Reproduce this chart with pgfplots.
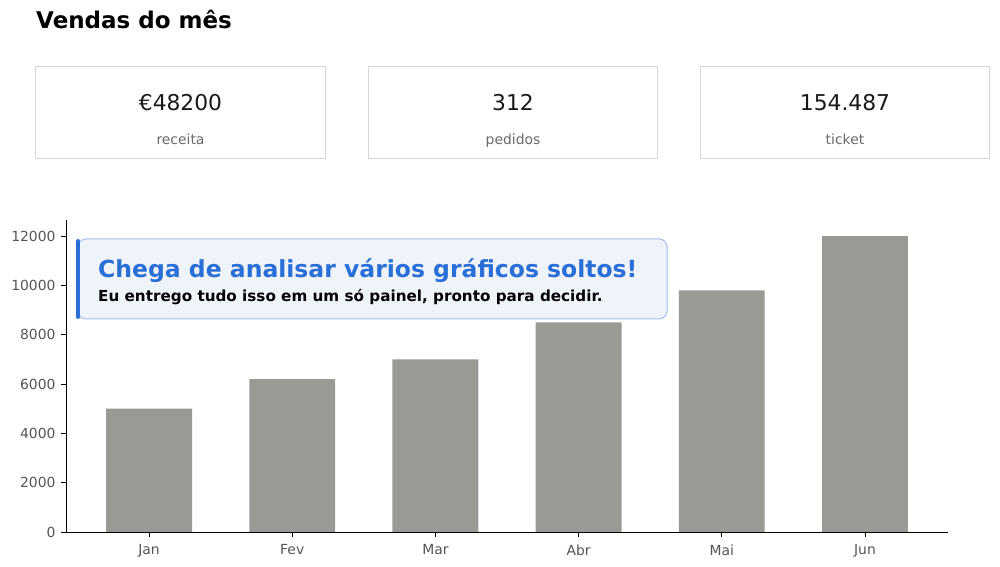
\documentclass[border=0pt]{standalone}
\usepackage{pgfplots}
\pgfplotsset{compat=1.18}
\usepackage{fontspec}
\setmainfont{DejaVu Sans}

\definecolor{bargray}{RGB}{154,154,148}
\definecolor{ticktext}{RGB}{85,85,85}
\definecolor{kpiborder}{RGB}{214,214,214}
\definecolor{kpilabel}{RGB}{105,105,105}
\definecolor{calloutfill}{RGB}{239,243,250}
\definecolor{calloutedge}{RGB}{165,190,234}
\definecolor{calloutblue}{RGB}{42,110,215}

\newcommand{\fs}[1]{\fontsize{#1bp}{#1bp}\selectfont}

\begin{document}
\begin{tikzpicture}
\useasboundingbox (0,0) rectangle (1000bp,567bp);

\begin{axis}[
    at={(66bp,35bp)}, anchor=south west,
    scale only axis, width=882bp, height=312bp,
    xmin=-0.58, xmax=5.58,
    ymin=0, ymax=12650,
    axis x line*=bottom, axis y line*=left,
    axis line style={-, black, line width=0.8bp},
    xtick={0,1,2,3,4,5},
    xticklabels={Jan,Fev,Mar,Abr,Mai,Jun},
    ytick={0,2000,4000,6000,8000,10000,12000},
    tick align=outside,
    major tick length=5bp,
    tick style={black, line width=0.8bp},
    ticklabel style={font=\fs{13.9}, text=ticktext},
    xticklabel style={yshift=-4bp},
    yticklabel style={xshift=-2bp},
    /pgf/number format/assume math mode=true,
    /pgf/number format/1000 sep={},
    scaled y ticks=false,
]
\addplot[ybar, bar width=0.6, fill=bargray, draw=none]
    coordinates {(0,5000) (1,6200) (2,7000) (3,8500) (4,9800) (5,12000)};
\end{axis}

\begin{scope}[x=1bp, y=-1bp, yshift=567bp]
  % title
  \node[anchor=base west, inner sep=0pt] at (36,29) {\fs{23}\bfseries Vendas do mês};

  % KPI cards
  \draw[kpiborder, line width=1bp] (35.5,66.5) rectangle (325.5,158.5);
  \draw[kpiborder, line width=1bp] (368.5,66.5) rectangle (657.5,158.5);
  \draw[kpiborder, line width=1bp] (700.5,66.5) rectangle (989.5,158.5);

  \node[anchor=base, inner sep=0pt, text={rgb,255:red,25;green,25;blue,25}] at (180.5,110.5) {\fs{21.8}€48200};
  \node[anchor=base, inner sep=0pt, text={rgb,255:red,25;green,25;blue,25}] at (513,110.5) {\fs{21.8}312};
  \node[anchor=base, inner sep=0pt, text={rgb,255:red,25;green,25;blue,25}] at (845,110.5) {\fs{21.8}154.487};

  \node[anchor=base, inner sep=0pt, text=kpilabel] at (180.5,145) {\fs{13.9}receita};
  \node[anchor=base, inner sep=0pt, text=kpilabel] at (513,145) {\fs{13.9}pedidos};
  \node[anchor=base, inner sep=0pt, text=kpilabel] at (845,145) {\fs{13.9}ticket};

  % callout
  \draw[calloutedge, fill=calloutfill, line width=1bp, rounded corners=8bp] (78,239) rectangle (667,319);
  \draw[calloutblue, line width=4bp, line cap=round] (78,241) -- (78,317);
  \node[anchor=base west, inner sep=0pt, text=calloutblue] at (98,278) {\fs{23.5}\bfseries Chega de analisar vários gráficos soltos!};
  \node[anchor=base west, inner sep=0pt, text=black] at (98,301.5) {\fs{15.2}\bfseries Eu entrego tudo isso em um só painel, pronto para decidir.};
\end{scope}
\end{tikzpicture}
\end{document}
